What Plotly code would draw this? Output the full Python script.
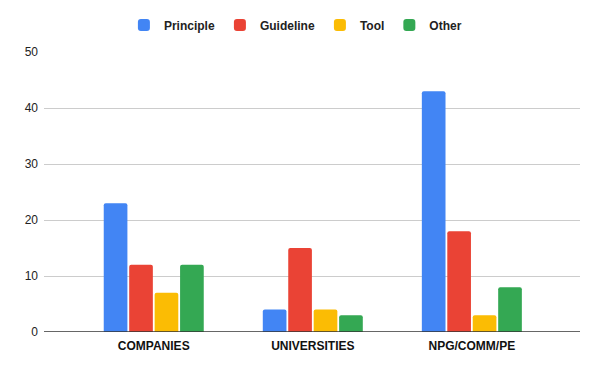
import plotly.graph_objects as go

categories = ['COMPANIES', 'UNIVERSITIES', 'NPG/COMM/PE']
principle = [23, 4, 43]
guideline = [12, 15, 18]
tool = [7, 4, 3]
other = [12, 3, 8]

series = [('Principle', principle, '#4285f4'),
          ('Guideline', guideline, '#ea4335'),
          ('Tool', tool, '#fbbc04'),
          ('Other', other, '#34a853')]

fig = go.Figure()
for name, vals, col in series:
    fig.add_trace(go.Bar(x=categories, y=vals, name=name,
                         marker=dict(color=col, line=dict(width=0))))

# page body has an 8px margin, so margins are shifted to compensate
fig.update_layout(
    width=600, height=371,
    margin=dict(l=36, r=28, t=44, b=47, autoexpand=False),
    paper_bgcolor='white', plot_bgcolor='white',
    barmode='group', bargap=0.36, bargroupgap=0.07,
    barcornerradius=2,
    font=dict(family='Liberation Sans, Arial, sans-serif', size=12, color='#222'),
    legend=dict(orientation='h', x=0.479, xanchor='center',
                xref='container', yref='container', y=1 - 17 / 371, yanchor='middle',
                font=dict(size=12, color='#222', weight='bold'),
                itemwidth=30, traceorder='normal'),
    xaxis=dict(range=[-0.69, 2.68], showgrid=False, ticks='', automargin=False,
               tickfont=dict(size=12, color='#111', weight='bold'),
               ticklabelstandoff=5,
               showline=False, zeroline=False),
    yaxis=dict(range=[0, 50], dtick=10, gridcolor='#cccccc', gridwidth=1,
               tickfont=dict(size=12, color='#222'), zeroline=False, automargin=False,
               showline=False, ticks='', ticklabelstandoff=5),
    showlegend=True,
)
fig.add_shape(type='line', xref='paper', yref='y', x0=0, x1=1, y0=0, y1=0,
              line=dict(color='#333333', width=1.5))

fig.write_html("out.html")
